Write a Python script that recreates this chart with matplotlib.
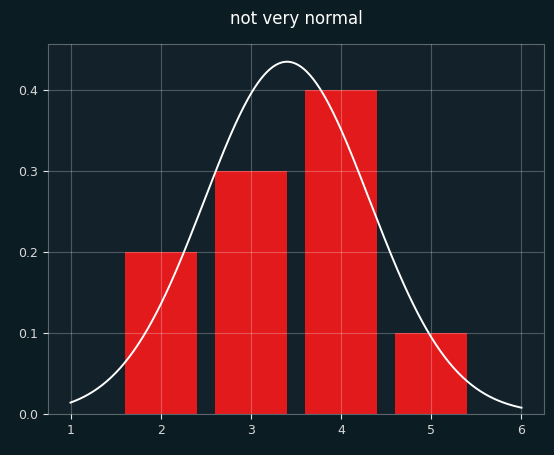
import numpy as np
import matplotlib
matplotlib.use("Agg")
import matplotlib.pyplot as plt

# data
categories = [2, 3, 4, 5]
probabilities = [0.2, 0.3, 0.4, 0.1]
curve_mean = 3.4
curve_std = 0.9165
curve_start, curve_end = 1, 6
xticks = [1, 2, 3, 4, 5, 6]
yticks = [0.0, 0.1, 0.2, 0.3, 0.4]

fig_bg = "#0c1c23"
ax_bg = "#13222a"
fg = "#e6e6e6"

fig = plt.figure(figsize=(5.54, 4.55), dpi=100, facecolor=fig_bg)
ax = fig.add_axes([0.0866, 0.0901, 0.8954, 0.8129], facecolor=ax_bg)

ax.bar(categories, probabilities, width=0.8, color="#e31a1c", zorder=1)
xs = np.linspace(curve_start, curve_end, 300)
ys = np.exp(-(xs - curve_mean) ** 2 / (2 * curve_std ** 2)) / (curve_std * np.sqrt(2 * np.pi))
ax.plot(xs, ys, color="white", lw=1.4, zorder=3)

ax.set_axisbelow(False)
ax.grid(True, color="#ffffff", alpha=0.25, lw=0.8, zorder=2)
ax.set_xticks(xticks)
ax.set_yticks(yticks)
ax.set_yticklabels([f"{v:.1f}" for v in yticks])
ax.tick_params(colors=fg, labelsize=9, length=3.5, labelcolor="#d8d8d8")
for s in ax.spines.values():
    s.set_color("#5a666c")
ax.set_title("not very normal", color="white", fontsize=12, pad=14.5)

fig.savefig("out.png", dpi=100, facecolor=fig_bg)
